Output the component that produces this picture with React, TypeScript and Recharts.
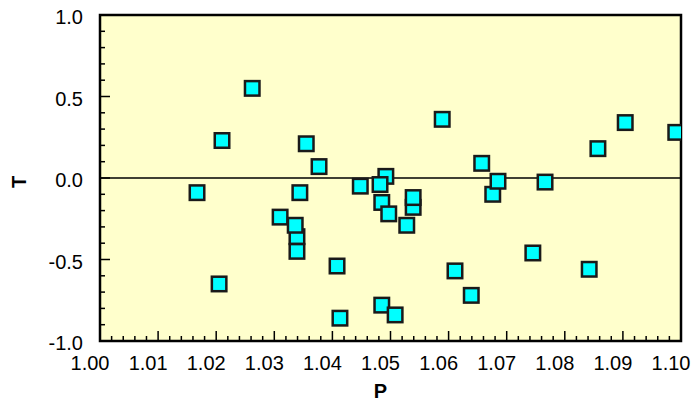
import { ReferenceArea, ReferenceLine, Scatter, ScatterChart, XAxis, YAxis } from 'recharts'

// P / T pairs, in drawing order (later squares sit on top of earlier ones)
const P_VALUES = [
  1.0167, 1.021, 1.0262, 1.0205, 1.031, 1.0339, 1.0336, 1.0339, 1.0344, 1.0355, 1.0377, 1.0408,
  1.0413, 1.0448, 1.0492, 1.0482, 1.0485, 1.0497, 1.0539, 1.0539, 1.0528, 1.0589, 1.0657, 1.0676,
  1.0685, 1.0766, 1.0904, 1.0857, 1.0991, 1.0745, 1.0842, 1.0611, 1.0639, 1.0485, 1.0508,
]
const T_VALUES = [
  -0.09, 0.23, 0.55, -0.65, -0.24, -0.36, -0.29, -0.45, -0.09, 0.21, 0.07, -0.54,
  -0.86, -0.05, 0.01, -0.04, -0.15, -0.22, -0.18, -0.12, -0.29, 0.36, 0.09, -0.1,
  -0.02, -0.025, 0.34, 0.18, 0.28, -0.46, -0.56, -0.57, -0.72, -0.78, -0.84,
]

const P_TICKS = [1.0, 1.01, 1.02, 1.03, 1.04, 1.05, 1.06, 1.07, 1.08, 1.09, 1.1]
const T_TICKS = [-1.0, -0.5, 0.0, 0.5, 1.0]

const P_DOMAIN: [number, number] = [1.0, 1.1]
const T_DOMAIN: [number, number] = [-1.0, 1.0]

const FONT = '"Liberation Sans", Arial, Helvetica, sans-serif'

// majors plus evenly spaced minor ticks between them
const withMinors = (majors: number[], n: number) =>
  majors.flatMap((v, i) => {
    if (i === 0) return [v]
    const prev = majors[i - 1]
    const mids = Array.from({ length: n }, (_, k) => prev + ((k + 1) * (v - prev)) / (n + 1))
    return [...mids, v]
  })

const P_ALL_TICKS = withMinors(P_TICKS, 4)
const T_ALL_TICKS = withMinors(T_TICKS, 4)

const isMajor = (v: number, majors: number[]) => majors.some((m) => Math.abs(m - v) < 1e-9)

const points = P_VALUES.map((p, i) => ({ p, t: T_VALUES[i] }))

const X_TICK_GAP = 15
const Y_TICK_GAP = 17

function PTick({ x, y, payload }: any) {
  const v = payload.value
  const major = isMajor(v, P_TICKS)
  const axisY = y - X_TICK_GAP
  return (
    <g>
      <line x1={x} x2={x} y1={axisY} y2={axisY - (major ? 10 : 5)} stroke="#000" strokeWidth={1.5} />
      {major && (
        <text x={x - 10} y={y} dy="0.71em" textAnchor="middle" fontSize={20} fontFamily={FONT} fill="#000">
          {v.toFixed(2)}
        </text>
      )}
    </g>
  )
}

function TTick({ x, y, payload }: any) {
  const v = payload.value
  const major = isMajor(v, T_TICKS)
  const axisX = x + Y_TICK_GAP
  return (
    <g>
      <line x1={axisX} x2={axisX + (major ? 10 : 5)} y1={y} y2={y} stroke="#000" strokeWidth={1.5} />
      {major && (
        <text x={x} y={y + 2} dy="0.36em" textAnchor="end" fontSize={20} fontFamily={FONT} fill="#000">
          {v.toFixed(1)}
        </text>
      )}
    </g>
  )
}

function PTitle({ viewBox }: any) {
  const { x, y, width } = viewBox
  return (
    <text x={x + width / 2 - 10} y={y + 57} textAnchor="middle" fontSize={20} fontWeight="bold" fontFamily={FONT} fill="#000">
      P
    </text>
  )
}

function TTitle({ viewBox }: any) {
  const { x, y, height } = viewBox
  const cx = x + 19
  const cy = y + height / 2 + 4
  return (
    <text
      x={cx}
      y={cy}
      transform={`rotate(-90 ${cx} ${cy})`}
      textAnchor="middle"
      dominantBaseline="central"
      fontSize={20}
      fontWeight="bold"
      fontFamily={FONT}
      fill="#000"
    >
      T
    </text>
  )
}

function Square({ cx, cy }: any) {
  const s = 14.5
  return <rect x={cx - s / 2} y={cy - s / 2} width={s} height={s} fill="#00FFFF" stroke="#1a1a1a" strokeWidth={2.5} />
}

export default function App() {
  return (
    <div style={{ position: 'absolute', left: 0, top: 0, background: '#fff' }}>
      <ScatterChart width={692} height={404} margin={{ top: 15, right: 11, bottom: 0, left: 0 }}>
        <XAxis
          xAxisId="p"
          type="number"
          dataKey="p"
          domain={P_DOMAIN}
          ticks={P_ALL_TICKS}
          interval={0}
          allowDataOverflow
          height={63}
          tickSize={0}
          tickMargin={X_TICK_GAP}
          tickLine={false}
          axisLine={false}
          tick={<PTick />}
          label={<PTitle />}
        />
        <YAxis
          yAxisId="t"
          type="number"
          dataKey="t"
          domain={T_DOMAIN}
          ticks={T_ALL_TICKS}
          interval={0}
          allowDataOverflow
          width={100}
          tickSize={0}
          tickMargin={Y_TICK_GAP}
          tickLine={false}
          axisLine={false}
          tick={<TTick />}
          label={<TTitle />}
        />
        <ReferenceArea
          xAxisId="p"
          yAxisId="t"
          x1={P_DOMAIN[0]}
          x2={P_DOMAIN[1]}
          y1={T_DOMAIN[0]}
          y2={T_DOMAIN[1]}
          fill="#FFFFCC"
          fillOpacity={1}
          stroke="#000"
          strokeWidth={2.5}
        />
        <ReferenceLine xAxisId="p" yAxisId="t" y={0} stroke="#000" strokeWidth={1.5} />
        <Scatter
          xAxisId="p"
          yAxisId="t"
          data={points}
          dataKey="t"
          shape={<Square />}
          isAnimationActive={false}
        />
      </ScatterChart>
    </div>
  )
}
